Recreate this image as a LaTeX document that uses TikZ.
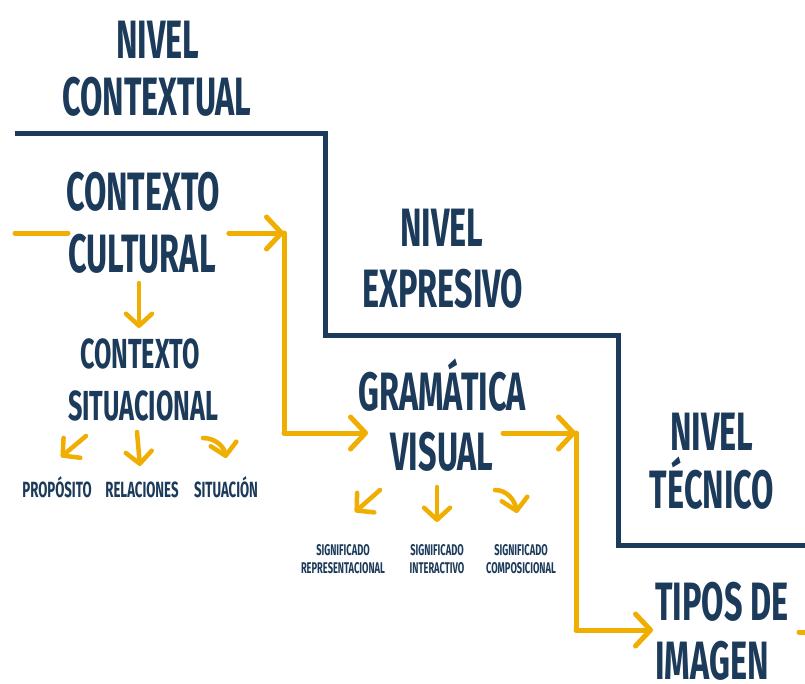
\documentclass[tikz,border=0pt]{standalone}
\usepackage{fontspec}
\setmainfont[FakeStretch=0.6]{Fira Sans}
\usetikzlibrary{arrows.meta}
\definecolor{navy}{HTML}{1C3A5A}
\definecolor{gold}{HTML}{F0AE00}
\begin{document}
\begin{tikzpicture}[x=1pt,y=-1pt,
  lbl/.style={text=navy,inner sep=0pt,anchor=base},
  big/.style={lbl,font=\fontsize{54}{60}\selectfont\bfseries},
  mid/.style={lbl,font=\fontsize{42}{50}\selectfont\bfseries},
  small/.style={lbl,font=\fontsize{22}{26}\selectfont\bfseries},
  tiny/.style={lbl,font=\fontsize{15.5}{18}\selectfont\bfseries},
  stair/.style={navy,line width=5pt,line join=miter},
  ol/.style={gold,line width=5pt,line cap=round,line join=round},
  oarr/.style={ol,-{Straight Barb[length=15pt,width=32pt,round]}},
  sarr/.style={ol,line width=4.5pt,-{Straight Barb[length=12pt,width=26pt,round]}}]
\useasboundingbox (0,0) rectangle (805,683);
\fill[white] (0,0) rectangle (805,683);
% staircase
\draw[stair] (15,133) -- (325,133) -- (325,335) -- (618,335) -- (618,545) -- (805,545);
% level titles
\node[big] (n1a) at (158,58) {NIVEL};
\node[big] (n1b) at (157,115) {CONTEXTUAL};
\node[big] (n2a) at (442,246) {NIVEL};
\node[big] (n2b) at (443,307) {EXPRESIVO};
\node[big] (n3a) at (712,450) {NIVEL};
\node[big] (n3b) at (712,508) {TÉCNICO};
% main concepts
\node[big] (cc1) at (143,210) {CONTEXTO};
\node[big] (cc2) at (142,272) {CULTURAL};
\node[mid] (cs1) at (140,368) {CONTEXTO};
\node[mid] (cs2) at (143,420) {SITUACIONAL};
\node[big] (gv1) at (442,410) {GRAMÁTICA};
\node[big] (gv2) at (442,470) {VISUAL};
\node[big] (ti1) at (722,620) {TIPOS DE};
\node[big] (ti2) at (712,679) {IMAGEN};
% small labels
\node[small] (pp) at (57,497) {PROPÓSITO};
\node[small] (rr) at (142,497) {RELACIONES};
\node[small] (ss) at (226,497) {SITUACIÓN};
\node[tiny] (sg1a) at (343,555) {SIGNIFICADO};
\node[tiny] (sg1b) at (343,573) {REPRESENTACIONAL};
\node[tiny] (sg2a) at (437,555) {SIGNIFICADO};
\node[tiny] (sg2b) at (437,573) {INTERACTIVO};
\node[tiny] (sg3a) at (521,555) {SIGNIFICADO};
\node[tiny] (sg3b) at (521,573) {COMPOSICIONAL};
% coordinates of connector corners
\coordinate (inL) at (15,233);
\coordinate (inR) at (68,233);
\coordinate (k1) at (284,233);
\coordinate (k2) at (284,433);
\coordinate (k3) at (576,433);
\coordinate (k4) at (576,630);
\coordinate (outR) at (799,632);
% gold connectors
\draw[ol] (inL) -- (inR);
\draw[oarr] (cc2.east |- k1) ++(13,0) -- (k1);
\draw[ol] (k1) -- (k2);
\draw[oarr] (k2) -- (368,433);
\draw[oarr] (503,433) -- (k3);
\draw[ol] (k3) -- (k4);
\draw[oarr] (k4) -- (653,630);
\draw[ol] (outR) -- (810,632);
\draw[sarr] (139,283) -- (139,328);
% small arrows
\draw[sarr] (86,436) -- (61,457);
\draw[sarr] (137,432) -- (140,466);
\draw[sarr] (203,438) to[out=0,in=100] (226,458);
\draw[sarr] (380,490) -- (355,512);
\draw[sarr] (437,487) -- (437,522);
\draw[sarr] (495,490) to[out=0,in=100] (517,513);
\end{tikzpicture}
\end{document}
